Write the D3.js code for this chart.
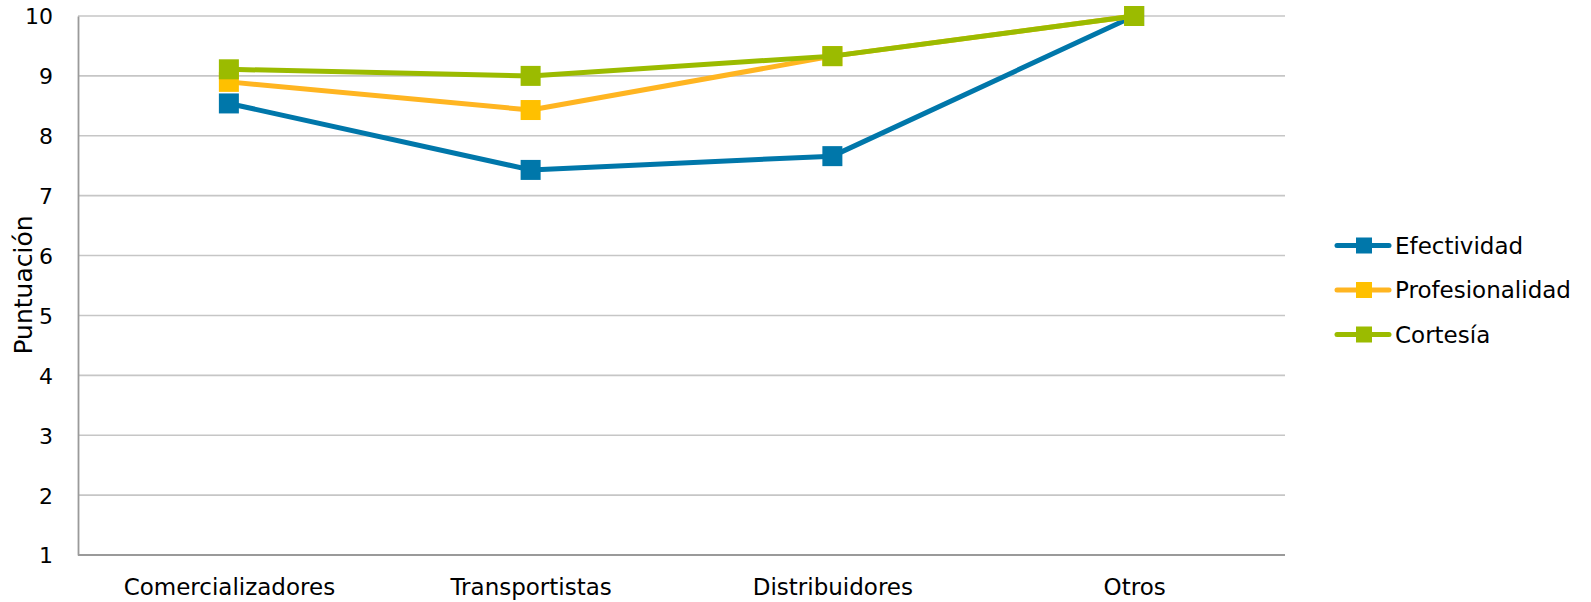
<!DOCTYPE html>
<html><head><meta charset="utf-8">
<script src="https://cdn.jsdelivr.net/npm/d3@7"></script>
<style>body{margin:0;background:#fff;} text{font-family:"DejaVu Sans",Verdana,sans-serif;fill:#000;}</style>
</head><body>
<svg id="c" width="1591" height="602"></svg>
<script>
const categories = ["Comercializadores","Transportistas","Distribuidores","Otros"];
const efectividad = [8.54, 7.43, 7.66, 10];
const profesionalidad = [8.9, 8.43, 9.33, 10];
const cortesia = [9.11, 9.0, 9.33, 10];
const yTicks = [1,2,3,4,5,6,7,8,9,10];
const seriesNames = ["Efectividad","Profesionalidad","Cortesía"];
const lineColors = ["#0077AA","#FFB521","#9BBB00"];
const markerColors = ["#0077AA","#FFC000","#9BBB00"];
const seriesData = [efectividad, profesionalidad, cortesia];

const svg = d3.select("#c");
const L = 78, R = 1285, T = 16, B = 555;
const x = d3.scalePoint().domain(categories).range([L, R]).padding(0.5);
const y = d3.scaleLinear().domain([1, 10]).range([B, T]);

// gridlines
svg.append("g").selectAll("line").data(yTicks.filter(d => d > 1)).join("line")
  .attr("x1", L).attr("x2", R).attr("y1", d => y(d)).attr("y2", d => y(d))
  .attr("stroke", "#c6c6c6").attr("stroke-width", 1.6);

// axes
const yAxis = svg.append("g").attr("transform", `translate(${L},0)`)
  .call(d3.axisLeft(y).tickValues(yTicks).tickSize(0).tickPadding(25).tickFormat(d3.format("d")));
yAxis.select(".domain").attr("stroke", "#9a9a9a").attr("stroke-width", 1.8);
yAxis.selectAll("text").style("font-size", "22px").attr("dy", "0.36em");

const xAxis = svg.append("g").attr("transform", `translate(0,${B})`)
  .call(d3.axisBottom(x).tickSize(0));
xAxis.select(".domain").attr("stroke", "#9a9a9a").attr("stroke-width", 1.8).attr("d", `M${L},0H${R}`);
xAxis.selectAll("text").style("font-size", "23px").attr("y", 40).attr("dy", 0);

svg.append("text").attr("transform", `translate(32,285) rotate(-90)`)
  .attr("text-anchor", "middle").style("font-size", "25px").text("Puntuación");

const line = d3.line().x((d, i) => x(categories[i])).y(d => y(d));
const ms = 20;
seriesData.forEach((vals, s) => {
  const g = svg.append("g");
  g.append("path").datum(vals).attr("d", line).attr("fill", "none")
    .attr("stroke", lineColors[s]).attr("stroke-width", 5).attr("stroke-linejoin", "round");
  g.selectAll("rect").data(vals).join("rect")
    .attr("x", (d, i) => x(categories[i]) - ms / 2).attr("y", d => y(d) - ms / 2)
    .attr("width", ms).attr("height", ms).attr("fill", markerColors[s]);
});

// legend
const lg = svg.append("g");
seriesNames.forEach((n, i) => {
  const cy = 245.5 + i * 44.5;
  lg.append("line").attr("x1", 1337).attr("x2", 1389).attr("y1", cy).attr("y2", cy)
    .attr("stroke", lineColors[i]).attr("stroke-width", 5).attr("stroke-linecap", "round");
  lg.append("rect").attr("x", 1356).attr("y", cy - 8).attr("width", 16).attr("height", 16).attr("fill", markerColors[i]);
  lg.append("text").attr("x", 1395).attr("y", cy).attr("dy", "0.36em").style("font-size", "23px").text(n);
});
</script>
</body></html>
